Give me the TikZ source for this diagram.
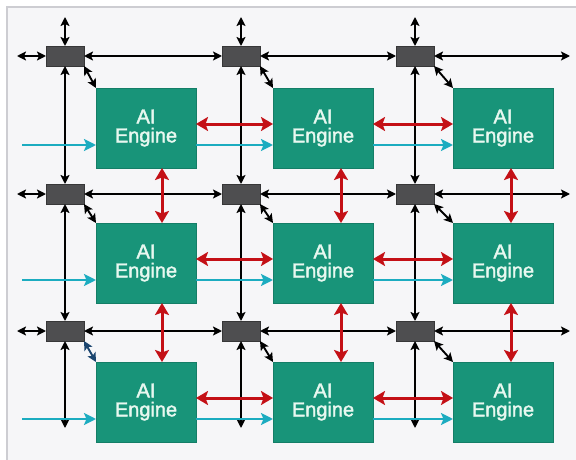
\documentclass[tikz,border=0pt]{standalone}
\usepackage{fontspec}
\setmainfont{Liberation Sans}
\newfontfamily\tilefont[FakeBold=2]{Liberation Sans}
\usepackage{tikz}
\usetikzlibrary{arrows.meta}
\definecolor{aiteal}{RGB}{24,148,121}
\definecolor{aitext}{RGB}{232,248,240}
\definecolor{swgray}{RGB}{78,78,80}
\definecolor{nbred}{RGB}{196,16,22}
\definecolor{strcyan}{RGB}{28,172,192}
\definecolor{dmanavy}{RGB}{28,70,112}
\tikzstyle{engine}  = [rectangle, minimum width=100pt, minimum height=80pt,
                       inner sep=0pt, outer sep=0pt, text centered, align=center,
                       draw=aiteal!85!black, line width=0.6pt, fill=aiteal,
                       text=aitext, font=\tilefont\fontsize{20}{19}\selectfont]
\tikzstyle{swbox}   = [rectangle, minimum width=38pt, minimum height=20pt,
                       inner sep=0pt, outer sep=0pt, draw=swgray!70!black,
                       line width=0.6pt, fill=swgray]
\tikzstyle{link}    = [line width=1.9pt, black,
                       {Stealth[length=9pt,width=9pt,inset=2pt]}-{Stealth[length=9pt,width=9pt,inset=2pt]}]
\tikzstyle{nbr}     = [line width=3pt, nbred,
                       {Stealth[length=12pt,width=14pt,inset=2.5pt]}-{Stealth[length=12pt,width=14pt,inset=2.5pt]}]
\tikzstyle{stream}  = [line width=2.8pt, strcyan,
                       -{Stealth[length=12pt,width=12pt,inset=2.5pt]}]
\begin{document}
\begin{tikzpicture}[x=1pt, y=-1pt]
\useasboundingbox (0,0) rectangle (576,460);
\draw[fill={rgb,255:red,246;green,246;blue,248}, draw={rgb,255:red,205;green,205;blue,210}, line width=1.4pt]
  (7,7) rectangle (600,480);

% stream switches
\node (s11) [swbox] at (65,56)  {};
\node (s12) [swbox] at (241,56) {};
\node (s13) [swbox] at (415,56) {};
\node (s21) [swbox] at (65,194)  {};
\node (s22) [swbox] at (241,194) {};
\node (s23) [swbox] at (415,194) {};
\node (s31) [swbox] at (65,331)  {};
\node (s32) [swbox] at (241,331) {};
\node (s33) [swbox] at (415,331) {};

% AI Engine tiles
\node (e11) [engine] at (146,128) {AI\\Engine};
\node (e12) [engine] at (323,128) {AI\\Engine};
\node (e13) [engine] at (503,128) {AI\\Engine};
\node (e21) [engine] at (146,263) {AI\\Engine};
\node (e22) [engine] at (323,263) {AI\\Engine};
\node (e23) [engine] at (503,263) {AI\\Engine};
\node (e31) [engine] at (146,402) {AI\\Engine};
\node (e32) [engine] at (323,402) {AI\\Engine};
\node (e33) [engine] at (503,402) {AI\\Engine};

% free ends
\coordinate (w1) at (17,56);  \coordinate (w2) at (17,194); \coordinate (w3) at (17,331);
\coordinate (o1) at (570,56); \coordinate (o2) at (570,194); \coordinate (o3) at (570,331);
\coordinate (n1) at (65,17);  \coordinate (n2) at (241,17); \coordinate (n3) at (415,17);
\coordinate (b1) at (65,428); \coordinate (b2) at (241,428); \coordinate (b3) at (415,428);
\coordinate (c1) at (22,145); \coordinate (c2) at (22,280); \coordinate (c3) at (22,419);

% switch network, horizontal
\draw [link] (w1) -- (s11); \draw [link] (s11) -- (s12); \draw [link] (s12) -- (s13); \draw [link] (s13) -- (o1);
\draw [link] (w2) -- (s21); \draw [link] (s21) -- (s22); \draw [link] (s22) -- (s23); \draw [link] (s23) -- (o2);
\draw [link] (w3) -- (s31); \draw [link] (s31) -- (s32); \draw [link] (s32) -- (s33); \draw [link] (s33) -- (o3);

% switch network, vertical
\draw [link] (n1) -- (s11); \draw [link] (s11) -- (s21); \draw [link] (s21) -- (s31); \draw [link] (s31) -- (b1);
\draw [link] (n2) -- (s12); \draw [link] (s12) -- (s22); \draw [link] (s22) -- (s32); \draw [link] (s32) -- (b2);
\draw [link] (n3) -- (s13); \draw [link] (s13) -- (s23); \draw [link] (s23) -- (s33); \draw [link] (s33) -- (b3);

% switch to tile
\draw [link] (s11.south east) -- (e11.north west);
\draw [link] (s12.south east) -- (e12.north west);
\draw [link] (s13.south east) -- (e13.north west);
\draw [link] (s21.south east) -- (e21.north west);
\draw [link] (s22.south east) -- (e22.north west);
\draw [link] (s23.south east) -- (e23.north west);
\draw [link, dmanavy] (s31.south east) -- (e31.north west);
\draw [link] (s32.south east) -- (e32.north west);
\draw [link] (s33.south east) -- (e33.north west);

% neighbour memory, horizontal
\draw [nbr] ([yshift=4pt]e11.east) -- ([yshift=4pt]e12.west);
\draw [nbr] ([yshift=4pt]e12.east) -- ([yshift=4pt]e13.west);
\draw [nbr] ([yshift=4pt]e21.east) -- ([yshift=4pt]e22.west);
\draw [nbr] ([yshift=4pt]e22.east) -- ([yshift=4pt]e23.west);
\draw [nbr] ([yshift=4pt]e31.east) -- ([yshift=4pt]e32.west);
\draw [nbr] ([yshift=4pt]e32.east) -- ([yshift=4pt]e33.west);

% neighbour memory, vertical
\draw [nbr] ([xshift=16pt]e11.south) -- ([xshift=16pt]e21.north);
\draw [nbr] ([xshift=18pt]e12.south) -- ([xshift=18pt]e22.north);
\draw [nbr] ([xshift=8pt]e13.south)  -- ([xshift=8pt]e23.north);
\draw [nbr] ([xshift=16pt]e21.south) -- ([xshift=16pt]e31.north);
\draw [nbr] ([xshift=18pt]e22.south) -- ([xshift=18pt]e32.north);
\draw [nbr] ([xshift=8pt]e23.south)  -- ([xshift=8pt]e33.north);

% cascade streams
\draw [stream] (c1) -- ([yshift=-17pt]e11.west);
\draw [stream] ([yshift=-17pt]e11.east) -- ([yshift=-17pt]e12.west);
\draw [stream] ([yshift=-17pt]e12.east) -- ([yshift=-17pt]e13.west);
\draw [stream] (c2) -- ([yshift=-17pt]e21.west);
\draw [stream] ([yshift=-17pt]e21.east) -- ([yshift=-17pt]e22.west);
\draw [stream] ([yshift=-17pt]e22.east) -- ([yshift=-17pt]e23.west);
\draw [stream] (c3) -- ([yshift=-17pt]e31.west);
\draw [stream] ([yshift=-17pt]e31.east) -- ([yshift=-17pt]e32.west);
\draw [stream] ([yshift=-17pt]e32.east) -- ([yshift=-17pt]e33.west);

\end{tikzpicture}
\end{document}
